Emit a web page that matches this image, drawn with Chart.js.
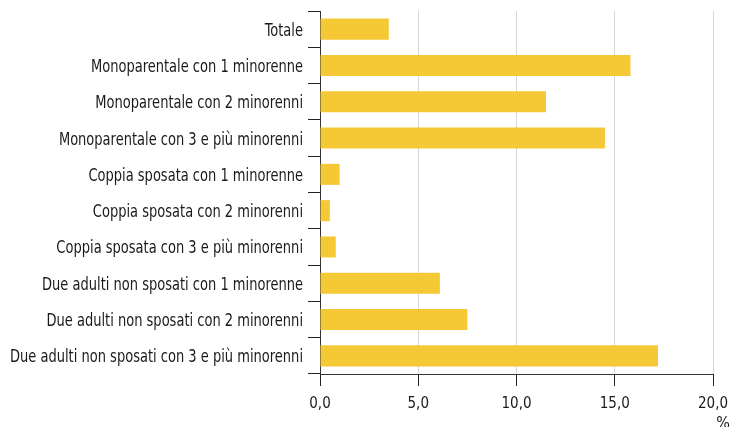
<!DOCTYPE html>
<html>
<head>
<meta charset="utf-8">
<script src="https://cdn.jsdelivr.net/npm/chart.js@4"></script>
<style>
  html, body { margin: 0; padding: 0; background: #fff; }
  #wrap { width: 731px; height: 427px; }
</style>
</head>
<body>
<div id="wrap"><canvas id="chart" width="731" height="427"></canvas></div>
<script>
// categories, top to bottom
const categories = [
    'Totale',
    'Monoparentale con 1 minorenne',
    'Monoparentale con 2 minorenni',
    'Monoparentale con 3 e più minorenni',
    'Coppia sposata con 1 minorenne',
    'Coppia sposata con 2 minorenni',
    'Coppia sposata con 3 e più minorenni',
    'Due adulti non sposati con 1 minorenne',
    'Due adulti non sposati con 2 minorenni',
    'Due adulti non sposati con 3 e più minorenni'
];
// share in %
const values = [3.5, 15.8, 11.5, 14.5, 1.0, 0.5, 0.8, 6.1, 7.5, 17.2];
const xTicks = [0, 5, 10, 15, 20];

const FONT = '"DejaVu Sans Condensed", "Liberation Sans Narrow", sans-serif';
const TEXT = '#1a1a1a';
const LABEL_SIZE = 18;     // category labels, squeezed horizontally
const LABEL_WIDTH = 293;   // width of the longest category label in the original
const TICK_SIZE = 15;

// category labels: the original font is much narrower than anything installed,
// so draw them taller and squeeze them to the same width
const yLabels = {
    id: 'yLabels',
    afterDraw(chart) {
        const ctx = chart.ctx;
        const y = chart.scales.y;
        ctx.save();
        ctx.font = LABEL_SIZE + 'px ' + FONT;
        ctx.fillStyle = TEXT;
        ctx.textAlign = 'right';
        ctx.textBaseline = 'alphabetic';
        const widest = Math.max(...categories.map(c => ctx.measureText(c).width));
        const sx = Math.min(1, LABEL_WIDTH / widest);
        categories.forEach((c, i) => {
            ctx.save();
            ctx.translate(y.right - 17, y.getPixelForTick(i) + 6.5);
            ctx.scale(sx, 1);
            ctx.fillText(c, 0, 0);
            ctx.restore();
        });
        ctx.restore();
    }
};

// draws the "%" unit under the last x tick
const unitLabel = {
    id: 'unitLabel',
    afterDraw(chart) {
        const ctx = chart.ctx;
        const x = chart.scales.x;
        ctx.save();
        ctx.font = '16px ' + FONT;
        ctx.fillStyle = TEXT;
        ctx.textAlign = 'center';
        ctx.textBaseline = 'alphabetic';
        ctx.fillText('%', x.right + 10, 428);
        ctx.restore();
    }
};

new Chart(document.getElementById('chart'), {
    type: 'bar',
    data: {
        labels: categories,
        datasets: [{
            data: values,
            backgroundColor: '#f5c935',
            borderWidth: 0,
            barPercentage: 0.58,
            categoryPercentage: 1
        }]
    },
    options: {
        indexAxis: 'y',
        responsive: false,
        animation: false,
        layout: { padding: { top: 11, right: 18, bottom: 0, left: 0 } },
        plugins: {
            legend: { display: false },
            tooltip: { enabled: false }
        },
        scales: {
            x: {
                min: 0,
                max: 20,
                afterBuildTicks(scale) {
                    scale.ticks = xTicks.map(v => ({ value: v }));
                },
                afterFit(scale) {
                    scale.height = 53;
                    scale.paddingLeft = 0;
                    scale.paddingRight = 0;
                },
                grid: {
                    color: '#d6d6d6',
                    tickColor: '#222',
                    tickLength: 12,
                    lineWidth: 1
                },
                border: { color: '#333', width: 1 },
                ticks: {
                    color: TEXT,
                    font: { family: FONT, size: TICK_SIZE },
                    padding: 9,
                    maxRotation: 0,
                    callback: v => v.toFixed(1).replace('.', ',')
                }
            },
            y: {
                afterFit(scale) {
                    scale.width = 320;
                    scale.paddingTop = 0;
                    scale.paddingBottom = 0;
                },
                grid: {
                    offset: true,
                    drawOnChartArea: false,
                    tickColor: '#222',
                    tickLength: 12
                },
                border: { color: '#333', width: 1 },
                ticks: {
                    // drawn by the yLabels plugin instead
                    color: 'rgba(0,0,0,0)',
                    font: { family: FONT, size: 10 }
                }
            }
        }
    },
    plugins: [yLabels, unitLabel]
});
</script>
</body>
</html>
